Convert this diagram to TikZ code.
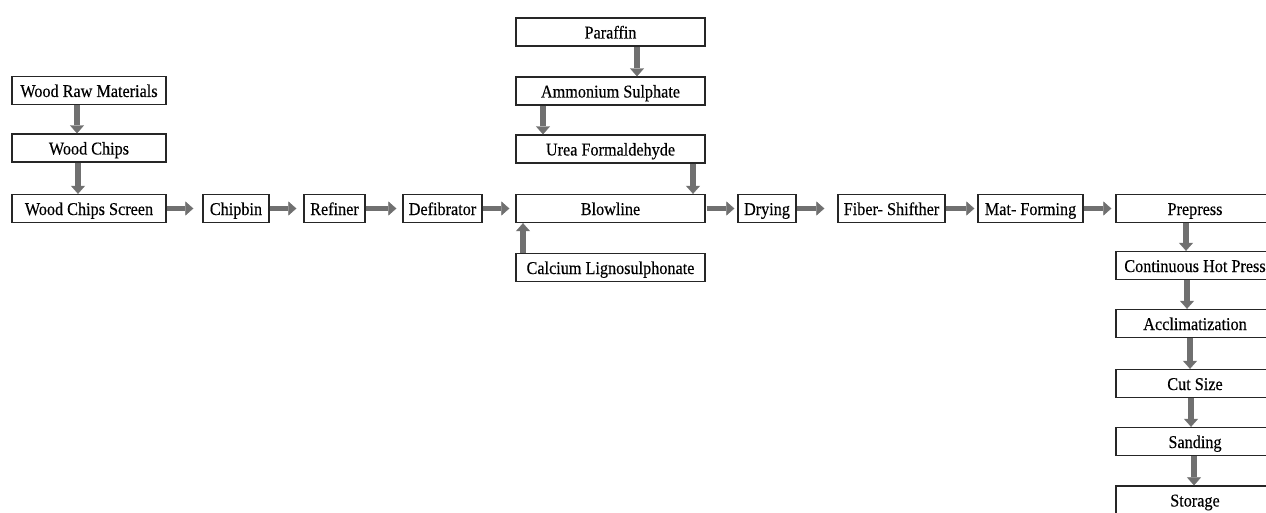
\documentclass[tikz,border=0pt]{standalone}
\usepackage{fontspec}
\setmainfont{Liberation Serif}[FakeStretch=0.9,FakeBold=0.3]
\usetikzlibrary{arrows.meta}
\definecolor{arrowgray}{RGB}{112,112,112}
\begin{document}
\begin{tikzpicture}[x=1pt,y=-1pt,
  box/.style={draw=black!85, line width=1.3pt, fill=white, inner sep=0pt,
    font=\fontsize{18}{21}\selectfont, text height=15pt, text depth=2pt},
  hbox/.style={box, minimum height=28pt},
  arr/.style={draw=arrowgray, line width=5.5pt,
    -{Triangle[length=8pt,width=14pt,line width=0.4pt]}}]
\clip (0,0) rectangle (1266,513);
\fill[white] (0,0) rectangle (1266,513);

% left column
\node[hbox, minimum width=154pt] (wrm) at (89,90.5) {Wood Raw Materials};
\node[hbox, minimum width=154pt] (wc)  at (89,148) {Wood Chips};
\node[hbox, minimum width=154pt] (wcs) at (89,208.5) {Wood Chips Screen};

% main row
\node[hbox, minimum width=66pt]  (chip) at (236,208.5) {Chipbin};
\node[hbox, minimum width=61pt]  (ref)  at (334.5,208.5) {Refiner};
\node[hbox, minimum width=79pt]  (def)  at (442.5,208.5) {Defibrator};
\node[hbox, minimum width=189pt] (blow) at (610.5,208.5) {Blowline};
\node[hbox, minimum width=58pt]  (dry)  at (767,208.5) {Drying};
\node[hbox, minimum width=107pt] (fib)  at (891.5,208.5) {Fiber- Shifther};
\node[hbox, minimum width=105pt] (mat)  at (1030.5,208.5) {Mat- Forming};

% additives column
\node[hbox, minimum width=189pt] (par)  at (610.5,32) {Paraffin};
\node[hbox, minimum width=189pt] (amm)  at (610.5,91) {Ammonium Sulphate};
\node[hbox, minimum width=189pt] (urea) at (610.5,149) {Urea Formaldehyde};
\node[hbox, minimum width=189pt] (cal)  at (610.5,267.5) {Calcium Lignosulphonate};

% right column
\node[hbox, minimum width=158pt] (pre) at (1195,208.5) {Prepress};
\node[hbox, minimum width=158pt] (chp) at (1195,265.5) {Continuous Hot Press};
\node[hbox, minimum width=158pt] (acc) at (1195,323.5) {Acclimatization};
\node[hbox, minimum width=158pt] (cut) at (1195,383.5) {Cut Size};
\node[hbox, minimum width=158pt] (san) at (1195,441.5) {Sanding};
\node[hbox, minimum width=158pt] (sto) at (1195,500) {Storage};

% vertical arrows, left
\draw[arr] ([xshift=-12pt]wrm.south) -- ([xshift=-12pt]wc.north);
\draw[arr] ([xshift=-11pt]wc.south) -- ([xshift=-11pt]wcs.north);

% horizontal arrows
\draw[arr, shorten >=9pt] (wcs.east) -- (chip.west);
\draw[arr, shorten >=7pt] (chip.east) -- (ref.west);
\draw[arr, shorten >=6pt] (ref.east) -- (def.west);
\draw[arr, shorten >=6pt] (def.east) -- (blow.west);
\draw[arr, shorten <=1pt, shorten >=3pt] (blow.east) -- (dry.west);
\draw[arr, shorten >=13pt] (dry.east) -- (fib.west);
\draw[arr, shorten >=3pt] (fib.east) -- (mat.west);
\draw[arr, shorten >=4pt] (mat.east) -- (pre.west);

% additives arrows
\draw[arr] ([xshift=26.5pt]par.south) -- ([xshift=26.5pt]amm.north);
\draw[arr] ([xshift=-67.5pt]amm.south) -- ([xshift=-67.5pt]urea.north);
\draw[arr] ([xshift=82.5pt]urea.south) -- ([xshift=82.5pt]blow.north);
\draw[arr] ([xshift=-87.5pt]cal.north) -- ([xshift=-87.5pt]blow.south);

% right column arrows
\draw[arr] ([xshift=-9pt]pre.south) -- ([xshift=-9pt]chp.north);
\draw[arr] ([xshift=-8pt]chp.south) -- ([xshift=-8pt]acc.north);
\draw[arr] ([xshift=-5pt]acc.south) -- ([xshift=-5pt]cut.north);
\draw[arr] ([xshift=-4pt]cut.south) -- ([xshift=-4pt]san.north);
\draw[arr] ([xshift=-1pt]san.south) -- ([xshift=-1pt]sto.north);
\end{tikzpicture}
\end{document}
